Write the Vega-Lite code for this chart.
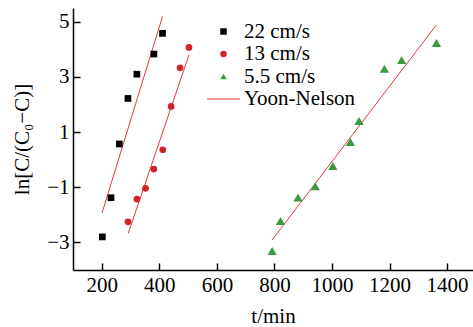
{
  "$schema": "https://vega.github.io/schema/vega-lite/v6.json",
  "width": 400,
  "height": 262,
  "autosize": "none",
  "padding": {"left": 73, "top": 8, "right": 0, "bottom": 57},
  "background": "white",
  "config": {
    "view": {"stroke": null},
    "font": "Liberation Serif",
    "axis": {
      "grid": false,
      "domainColor": "black",
      "tickColor": "black",
      "domainWidth": 1.5,
      "tickWidth": 1.5,
      "tickSize": -7,
      "labelFont": "Liberation Serif",
      "labelFontSize": 21,
      "labelColor": "black",
      "titleFont": "Liberation Serif",
      "titleFontSize": 21,
      "titleFontWeight": "normal",
      "titleColor": "black"
    }
  },
  "datasets": {
    "pts": [
      {"series": "22 cm/s", "t": 202, "y": -2.80},
      {"series": "22 cm/s", "t": 232, "y": -1.38},
      {"series": "22 cm/s", "t": 261, "y": 0.57},
      {"series": "22 cm/s", "t": 291, "y": 2.22},
      {"series": "22 cm/s", "t": 322, "y": 3.10},
      {"series": "22 cm/s", "t": 381, "y": 3.83},
      {"series": "22 cm/s", "t": 411, "y": 4.58},
      {"series": "13 cm/s", "t": 291, "y": -2.25},
      {"series": "13 cm/s", "t": 322, "y": -1.43},
      {"series": "13 cm/s", "t": 352, "y": -1.04},
      {"series": "13 cm/s", "t": 381, "y": -0.34},
      {"series": "13 cm/s", "t": 412, "y": 0.36},
      {"series": "13 cm/s", "t": 441, "y": 1.93},
      {"series": "13 cm/s", "t": 472, "y": 3.33},
      {"series": "13 cm/s", "t": 503, "y": 4.07},
      {"series": "5.5 cm/s", "t": 792, "y": -3.31},
      {"series": "5.5 cm/s", "t": 821, "y": -2.22},
      {"series": "5.5 cm/s", "t": 882, "y": -1.37},
      {"series": "5.5 cm/s", "t": 942, "y": -0.96},
      {"series": "5.5 cm/s", "t": 1003, "y": -0.23},
      {"series": "5.5 cm/s", "t": 1064, "y": 0.64},
      {"series": "5.5 cm/s", "t": 1094, "y": 1.40},
      {"series": "5.5 cm/s", "t": 1182, "y": 3.30},
      {"series": "5.5 cm/s", "t": 1242, "y": 3.61},
      {"series": "5.5 cm/s", "t": 1363, "y": 4.23}
    ],
    "fits": [
      {"series": "22 cm/s", "t": 201, "y": -1.93},
      {"series": "22 cm/s", "t": 411, "y": 5.19},
      {"series": "13 cm/s", "t": 292, "y": -2.67},
      {"series": "13 cm/s", "t": 503, "y": 3.80},
      {"series": "5.5 cm/s", "t": 792, "y": -2.91},
      {"series": "5.5 cm/s", "t": 1363, "y": 4.89}
    ]
  },
  "layer": [
    {
      "data": {"name": "fits"},
      "mark": {"type": "line", "color": "#e0393c", "strokeWidth": 1},
      "encoding": {
        "x": {"field": "t", "type": "quantitative"},
        "y": {"field": "y", "type": "quantitative"},
        "detail": {"field": "series"}
      }
    },
    {
      "data": {"name": "pts"},
      "mark": {"type": "point", "filled": true, "opacity": 1},
      "encoding": {
        "x": {
          "field": "t",
          "type": "quantitative",
          "scale": {"domain": [100, 1490], "nice": false, "zero": false},
          "axis": {"values": [200, 400, 600, 800, 1000, 1200, 1400], "format": "d", "title": "t/min", "labelPadding": 11, "titlePadding": 10}
        },
        "y": {
          "field": "y",
          "type": "quantitative",
          "scale": {"domain": [-4, 5.5], "nice": false, "zero": false},
          "axis": {"values": [-3, -1, 1, 3, 5], "title": "ln[C/(C₀−C)]", "labelPadding": 11, "titlePadding": 14}
        },
        "color": {
          "field": "series",
          "type": "nominal",
          "scale": {
            "domain": ["22 cm/s", "13 cm/s", "5.5 cm/s", "Yoon-Nelson"],
            "range": ["#000000", "#d2232a", "#3a9a40", "#e0393c"]
          },
          "legend": {
            "title": null,
            "orient": "none",
            "legendX": 140,
            "legendY": 13,
            "padding": 0,
            "symbolSize": 42,
            "symbolType": "circle",
            "labelFont": "Liberation Serif",
            "labelFontSize": 21,
            "labelColor": "black",
            "labelOffset": 10,
            "rowPadding": 0.5
          }
        },
        "shape": {
          "field": "series",
          "type": "nominal",
          "scale": {
            "domain": ["22 cm/s", "13 cm/s", "5.5 cm/s", "Yoon-Nelson"],
            "range": ["square", "circle", "triangle-up", "M-5.1,-0.17H5.1V0.17H-5.1Z"]
          }
        },
        "size": {
          "condition": {"test": "datum.series === '5.5 cm/s'", "value": 85},
          "value": 45
        }
      }
    }
  ]
}
